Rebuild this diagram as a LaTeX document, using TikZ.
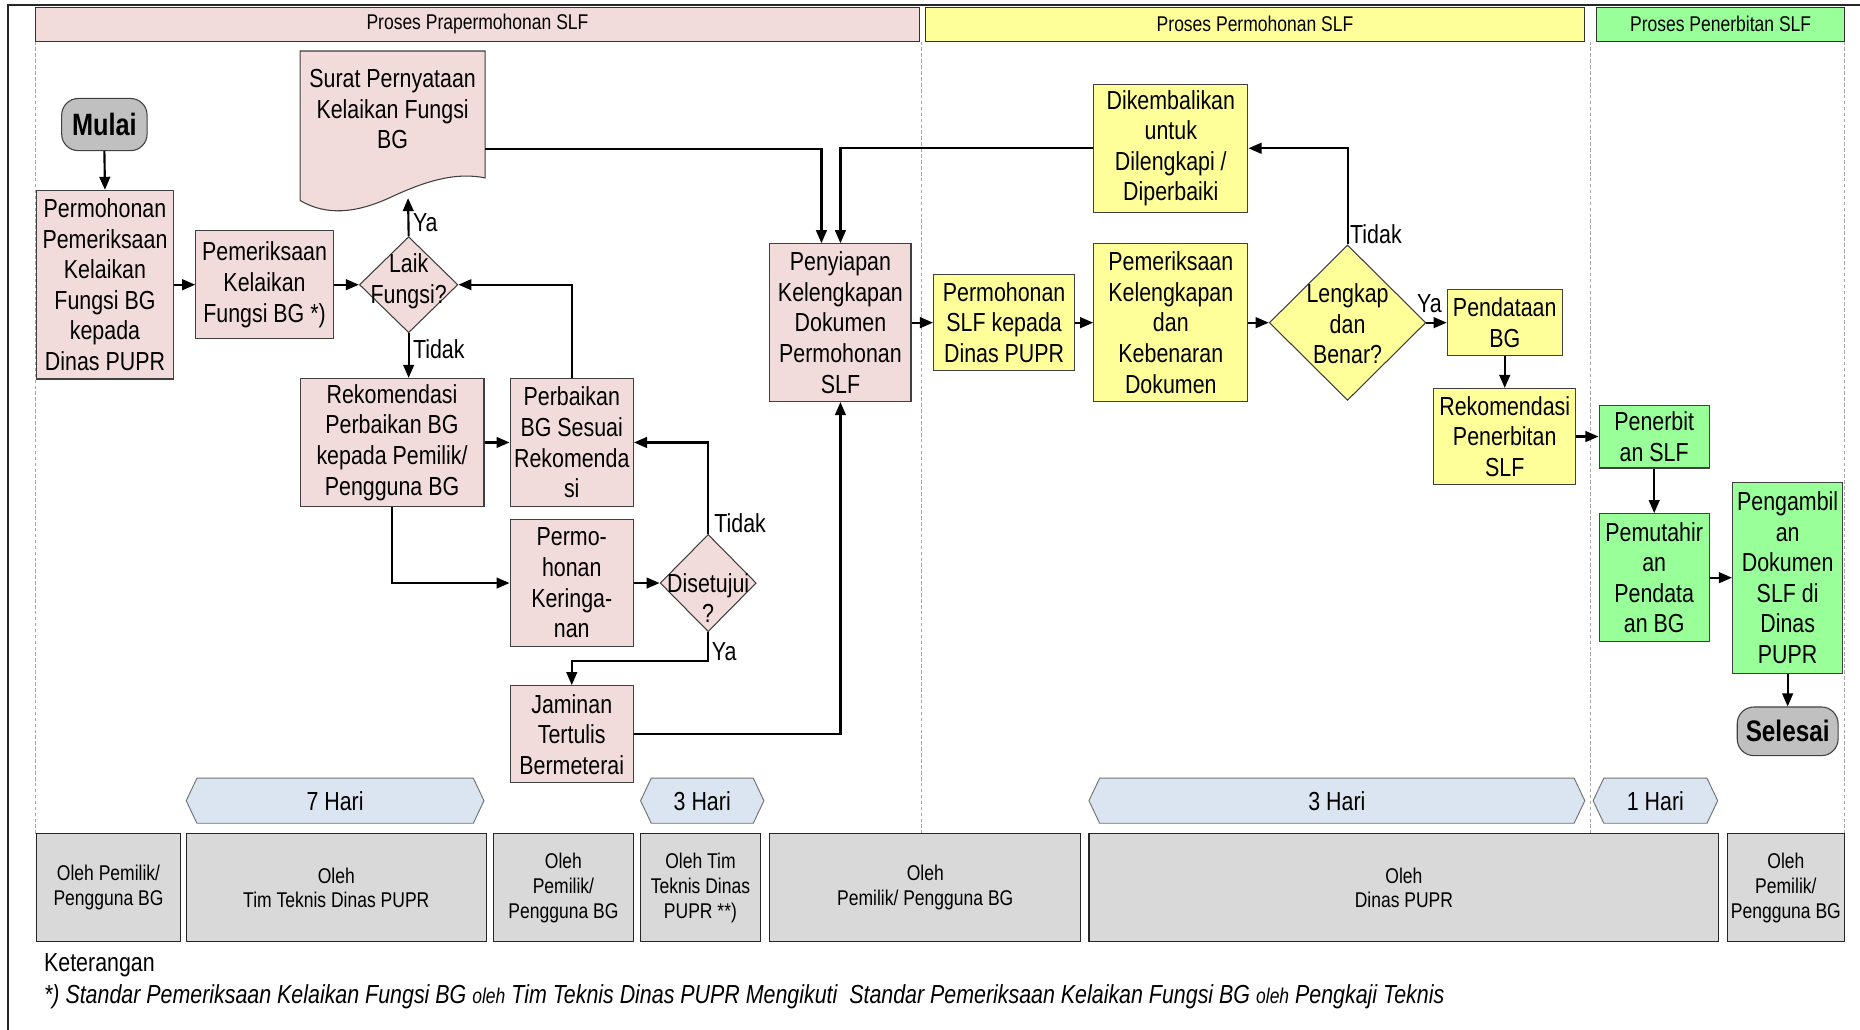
\documentclass[tikz,border=0pt]{standalone}
\usepackage{fontspec}
\setmainfont[FakeStretch=0.82]{Liberation Sans}
\usetikzlibrary{shapes.geometric,arrows.meta,calc}
\definecolor{pinkc}{HTML}{F2DCDB}
\definecolor{yelc}{HTML}{FFFF99}
\definecolor{grnc}{HTML}{99FF99}
\definecolor{termc}{HTML}{C0C0C0}
\definecolor{hexc}{HTML}{DBE5F1}
\definecolor{botc}{HTML}{D9D9D9}
\newcommand{\nodef}{\fontsize{22}{25.8}\selectfont}
\newcommand{\smallerf}{\fontsize{18}{21}\selectfont}
\newcommand{\hexa}[4]{%
  \draw[hexs] (#1,675) -- (#1+9,656) -- (#2-9,656) -- (#2,675) -- (#2-9,694) -- (#1+9,694) -- cycle;
  \node[txt] (#3) at ({(#1+#2)/2},675) {#4};}
\tikzset{
  box/.style={draw=black!75, line width=0.9pt, inner sep=0pt, align=center, font=\nodef},
  pinkbox/.style={box, fill=pinkc},
  yelbox/.style={box, fill=yelc},
  grnbox/.style={box, fill=grnc},
  term/.style={box, fill=termc, rounded corners=14pt, font=\fontsize{26}{30}\selectfont\bfseries},
  dia/.style={draw=black!75, line width=0.9pt, shape=diamond, inner sep=0pt},
  txt/.style={inner sep=0pt, align=center, font=\nodef},
  lbl/.style={inner sep=0pt, font=\nodef},
  hexs/.style={draw=black!55, line width=0.8pt, fill=hexc},
  botbox/.style={draw=black!85, line width=0.9pt, fill=botc, inner sep=0pt, align=center, font=\smallerf, minimum height=91pt},
  headbox/.style={draw=black!80, line width=0.8pt, inner sep=0pt, font=\smallerf, minimum height=29pt},
  lane/.style={draw=black!35, dashed, dash pattern=on 3pt off 2pt, line width=0.7pt},
  conn/.style={line width=1.8pt, -{Triangle[length=11pt,width=9pt]}},
}
\begin{document}
\begin{tikzpicture}[x=1pt,y=-1pt]
\useasboundingbox (0,0) rectangle (1568,868);
\fill[white] (0,0) rectangle (1568,868);
% frame
\draw[line width=2pt, black!85] (7,868) -- (7,4) -- (1568,4);
% lanes
\foreach \xx in {30,777,1341,1555} {\draw[lane] (\xx,35) -- (\xx,703);}
% headers
\node[headbox, fill=pinkc, minimum width=745pt] (h1) at (402.5,20.5) {Proses Prapermohonan SLF};
\node[headbox, fill=yelc, minimum width=556pt] (h2) at (1058,20.5) {Proses Permohonan SLF};
\node[headbox, fill=grnc, minimum width=209pt] (h3) at (1450.5,20.5) {Proses Penerbitan SLF};

% nodes
\node[term, minimum width=72pt, minimum height=44pt] (mulai) at (88,105) {Mulai};
\node[pinkbox, minimum width=115pt, minimum height=159pt] (perm1) at (88.5,240) {Permohonan\\Pemeriksaan\\Kelaikan\\Fungsi BG\\kepada\\Dinas PUPR};
\node[pinkbox, minimum width=116pt, minimum height=91pt] (pem1) at (223,240) {Pemeriksaan\\Kelaikan\\Fungsi BG *)};
\node[dia, fill=pinkc, minimum width=83pt, minimum height=81pt] (laik) at (344.5,240) {};
\node[txt] (laikt) at (344.5,237) {Laik\\Fungsi?};
% document shape
\node[inner sep=0pt, minimum width=156pt, minimum height=127pt] (surat) at (331,106.5) {};
\draw[draw=black!75, line width=0.9pt, fill=pinkc] (253,43) -- (409,43) -- (409,150)
  .. controls (385,145) and (360,152) .. (330,166)
  .. controls (300,180) and (275,182) .. (253,169) -- cycle;
\node[txt] (surat-t) at (331,92) {Surat Pernyataan\\Kelaikan Fungsi\\BG};
\coordinate (suratbot) at (344,167);

\node[pinkbox, minimum width=155pt, minimum height=108pt] (rekom1) at (330.5,373) {Rekomendasi\\Perbaikan BG\\kepada Pemilik/\\Pengguna BG};
\node[pinkbox, minimum width=104pt, minimum height=108pt] (perbaikan) at (482,373) {Perbaikan\\BG Sesuai\\Rekomenda\\si};
\node[pinkbox, minimum width=104pt, minimum height=107pt] (keringanan) at (482,491.5) {Permo-\\honan\\Keringa-\\nan};
\node[dia, fill=pinkc, minimum width=81pt, minimum height=82pt] (setuju) at (597,491.5) {};
\node[txt] (setujut) at (597,504) {Disetujui\\?};
\node[pinkbox, minimum width=104pt, minimum height=82pt] (jaminan) at (482,619) {Jaminan\\Tertulis\\Bermeterai};
\node[pinkbox, minimum width=119pt, minimum height=133pt] (penyiapan) at (708.5,272) {Penyiapan\\Kelengkapan\\Dokumen\\Permohonan\\SLF};

\node[yelbox, minimum width=130pt, minimum height=108pt] (kembali) at (987,125) {Dikembalikan\\untuk\\Dilengkapi /\\Diperbaiki};
\node[yelbox, minimum width=119pt, minimum height=81pt] (mohonslf) at (846.5,272) {Permohonan\\SLF kepada\\Dinas PUPR};
\node[yelbox, minimum width=130pt, minimum height=133pt] (periksa2) at (987,272) {Pemeriksaan\\Kelengkapan\\dan\\Kebenaran\\Dokumen};
\node[dia, fill=yelc, minimum width=132pt, minimum height=131pt] (lengkap) at (1136,272) {};
\node[txt] (lengkapt) at (1136,273) {Lengkap\\dan\\Benar?};
\node[yelbox, minimum width=97pt, minimum height=56pt] (pendataan) at (1268.5,272) {Pendataan\\BG};
\node[yelbox, minimum width=120pt, minimum height=81pt] (rekom2) at (1268.5,368) {Rekomendasi\\Penerbitan\\SLF};

\node[grnbox, minimum width=93pt, minimum height=53pt] (penerbit) at (1394.5,368) {Penerbit\\an SLF};
\node[grnbox, minimum width=93pt, minimum height=108pt] (pemutahir) at (1394.5,487) {Pemutahir\\an\\Pendata\\an BG};
\node[grnbox, minimum width=93pt, minimum height=161pt] (pengambil) at (1507,487) {Pengambil\\an\\Dokumen\\SLF di\\Dinas\\PUPR};
\node[term, minimum width=85pt, minimum height=41pt, font=\fontsize{25}{29}\selectfont\bfseries] (selesai) at (1507,616.5) {Selesai};

% connectors
\draw[conn] (mulai.south) -- (perm1.north);
\draw[conn] (perm1.east) -- (pem1.west);
\draw[conn] (pem1.east) -- (laik.west);
\draw[conn] (laik.north) -- (suratbot);
\node[lbl, anchor=west] (ya1) at (348,188) {Ya};
\draw[conn] (laik.south) -- (rekom1.north -| laik.south);
\node[lbl, anchor=west] (tidak1) at (348,294) {Tidak};
\draw[conn] (perbaikan.north) |- (laik.east);
\draw[conn] (rekom1.east) -- (perbaikan.west);
\draw[conn] (rekom1.south) |- (keringanan.west);
\draw[conn] (keringanan.east) -- (setuju.west);
\draw[conn] (setuju.north) |- (perbaikan.east);
\node[lbl, anchor=west] (tidak2) at (602,441) {Tidak};
\draw[conn] (setuju.south) -- ++(0,24) -| (jaminan.north);
\node[lbl, anchor=west] (ya2) at (600,549) {Ya};
\draw[conn] (jaminan.east) -| (penyiapan.south);
\draw[conn] ([yshift=-83pt]surat.north east) -| ([xshift=-16pt]penyiapan.north);
\draw[conn] (kembali.west) -| (penyiapan.north);
\draw[conn] (penyiapan.east) -- (mohonslf.west);
\draw[conn] (mohonslf.east) -- (periksa2.west);
\draw[conn] (periksa2.east) -- (lengkap.west);
\draw[conn] (lengkap.north) |- (kembali.east);
\node[lbl, anchor=west] (tidak3) at (1138,197) {Tidak};
\draw[conn] (lengkap.east) -- (pendataan.west);
\node[lbl] (ya3) at (1205,256) {Ya};
\draw[conn] (pendataan.south) -- (rekom2.north);
\draw[conn] (rekom2.east) -- (penerbit.west);
\draw[conn] (penerbit.south) -- (pemutahir.north);
\draw[conn] (pemutahir.east) -- (pengambil.west);
\draw[conn] (pengambil.south) -- (selesai.north);

% durations
\hexa{157}{408}{d1}{7 Hari}
\hexa{540}{644}{d2}{3 Hari}
\hexa{918}{1336}{d3}{3 Hari}
\hexa{1343}{1448}{d4}{1 Hari}

% actors
\node[botbox, minimum width=121pt] (b1) at (91.5,748.5) {Oleh Pemilik/\\Pengguna BG};
\node[botbox, minimum width=253pt] (b2) at (283.5,748.5) {Oleh\\Tim Teknis Dinas PUPR};
\node[botbox, minimum width=118pt] (b3) at (475,748.5) {Oleh\\Pemilik/\\Pengguna BG};
\node[botbox, minimum width=101pt] (b4) at (590.5,748.5) {Oleh Tim\\Teknis Dinas\\PUPR **)};
\node[botbox, minimum width=262pt] (b5) at (780,748.5) {Oleh\\Pemilik/ Pengguna BG};
\node[botbox, minimum width=531pt] (b6) at (1183.5,748.5) {Oleh\\Dinas PUPR};
\node[botbox, minimum width=99pt] (b7) at (1505.5,748.5) {Oleh\\Pemilik/\\Pengguna BG};

% legend
\node[lbl, anchor=west] (ket) at (37,814) {Keterangan};
\node[lbl, anchor=west] (foot) at (37,840) {\itshape *) Standar Pemeriksaan Kelaikan Fungsi BG {\smallerf oleh} Tim Teknis Dinas PUPR Mengikuti\ \ Standar Pemeriksaan Kelaikan Fungsi BG {\smallerf oleh} Pengkaji Teknis};
\end{tikzpicture}
\end{document}
